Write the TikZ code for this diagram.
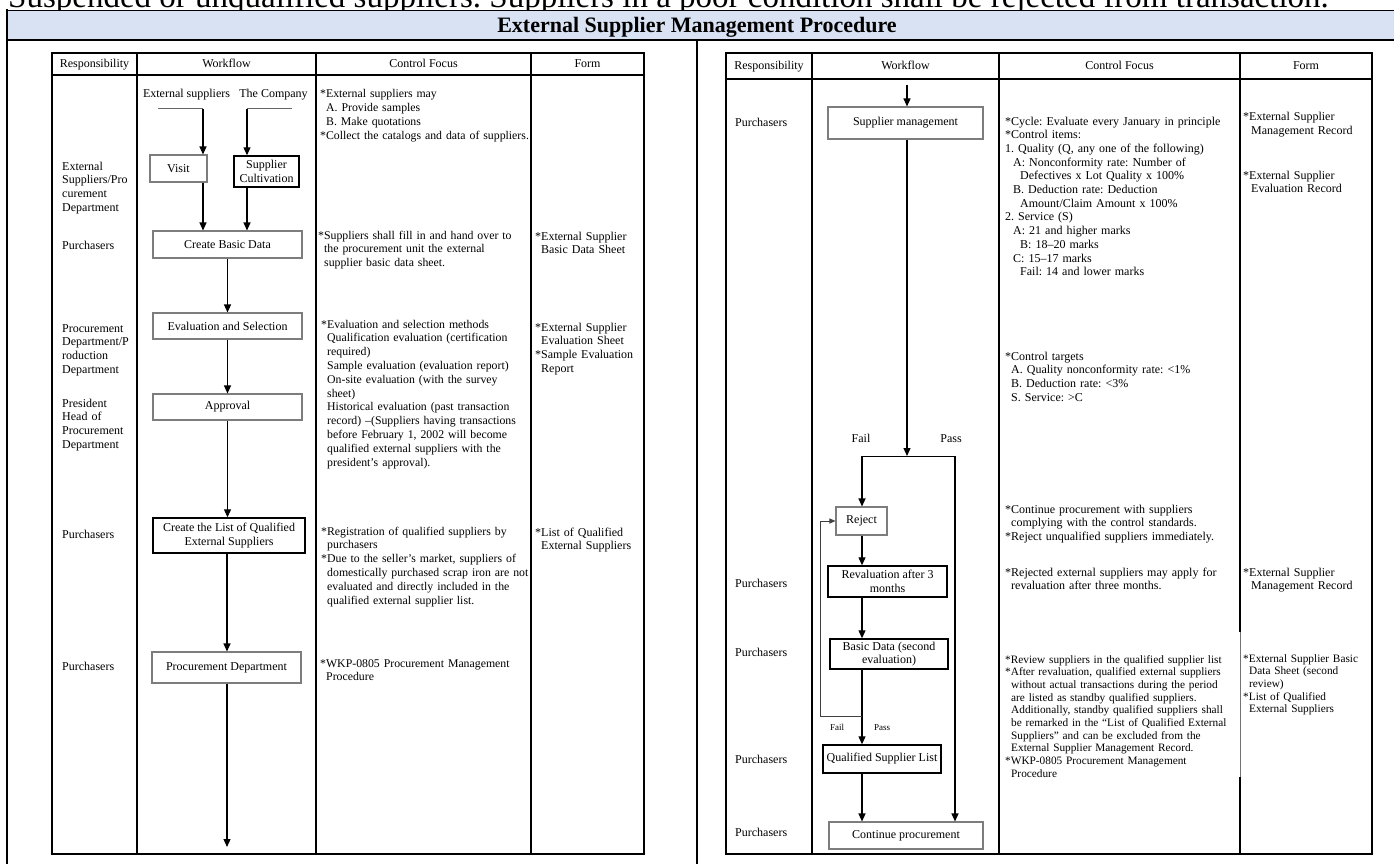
\documentclass[tikz,border=0pt]{standalone}
\usepackage{fontspec}
\setmainfont{Liberation Serif}
\usetikzlibrary{arrows.meta}
\definecolor{titlebg}{RGB}{217,226,242}
\definecolor{boxgray}{RGB}{125,125,125}
\newcommand{\myind}{\hspace*{6pt}}
\newcommand{\fsn}{\frenchspacing\fontsize{12}{13.7}\selectfont}
\newcommand{\fsm}{\frenchspacing\fontsize{11.8}{13.8}\selectfont}
\newcommand{\fss}{\frenchspacing\fontsize{11.3}{12.7}\selectfont}
\begin{document}
\begin{tikzpicture}[x=1pt,y=-1pt,
  every node/.style={inner sep=0pt},
  gbox/.style={draw=boxgray, line width=1.1pt, align=center, font=\fsn},
  bbox/.style={draw=black, line width=1.4pt, align=center, font=\fsn},
  flow/.style={line width=1.2pt, -{Triangle[length=8pt,width=7pt]}},
  thinflow/.style={line width=0.9pt, black!75, -{Triangle[length=6pt,width=5pt]}},
  seg/.style={line width=1pt},
  txt/.style={anchor=base west, align=left, text width=300pt, font=\fsn},
  mtxt/.style={anchor=base west, align=left, text width=300pt, font=\fsm},
  stxt/.style={anchor=base west, align=left, text width=300pt, font=\fss},
  hdr/.style={anchor=base, font=\fsn},
  frame/.style={line width=2.5pt},
  col/.style={line width=1.5pt}
]
\useasboundingbox (0,0) rectangle (1394,864);
\clip (0,0) rectangle (1394,864);
\fill[white] (0,0) rectangle (1394,864);

% cropped line of text at the very top
\node[anchor=base west, font=\frenchspacing\fontsize{33}{36}\selectfont] (toptext) at (8,8)
  {Suspended or unqualified suppliers. Suppliers in a poor condition shall be rejected from transaction.};

% title bar and outer frame
\fill[titlebg] (7,10) rectangle (1394,40);
\draw[line width=0.8pt] (7,10) -- (1394,10);
\draw[col] (7,40) -- (1394,40);
\draw[frame] (7,9) -- (7,864);
\draw[col] (697,40) -- (697,864);
\node[anchor=base, font=\fontsize{22}{24}\selectfont\bfseries] (title) at (697,33)
  {External Supplier Management Procedure};

%================ LEFT TABLE ================
\draw[frame] (52,53) rectangle (644,854);
\draw[col] (137,53) -- (137,854);
\draw[col] (316,53) -- (316,854);
\draw[col] (531,53) -- (531,854);
\draw[col] (52,75) -- (644,75);
\node[hdr] (lh1) at (94.5,68) {Responsibility};
\node[hdr] (lh2) at (226.5,68) {Workflow};
\node[hdr] (lh3) at (423.5,68) {Control Focus};
\node[hdr] (lh4) at (587.5,68) {Form};

% responsibility
\node[txt] (lr1) at (62,170) {External\\Suppliers/Pro\\curement\\Department};
\node[txt] (lr2) at (62,249) {Purchasers};
\node[txt] (lr3) at (62,332) {Procurement\\Department/P\\roduction\\Department};
\node[txt] (lr4) at (62,407) {President\\Head of\\Procurement\\Department};
\node[txt] (lr5) at (62,538) {Purchasers};
\node[txt] (lr6) at (62,670) {Purchasers};

% workflow
\node[anchor=base, font=\fsn] (les) at (186.5,98) {External suppliers};
\node[anchor=base, font=\fsn] (lco) at (273.5,98) {The Company};
\node[gbox, minimum width=57pt, minimum height=27pt] (visit) at (178.5,168.5) {Visit};
\node[bbox, minimum width=65pt, minimum height=31pt] (cult) at (266.5,171.5) {Supplier\\Cultivation};
\node[gbox, minimum width=149pt, minimum height=27pt] (cbd) at (227.5,244.5) {Create Basic Data};
\node[gbox, minimum width=149pt, minimum height=26pt] (evs) at (227.5,326) {Evaluation and Selection};
\node[gbox, minimum width=149pt, minimum height=26pt] (appr) at (227.5,407) {Approval};
\node[bbox, minimum width=152pt, minimum height=35pt] (clist) at (229,535.5) {Create the List of Qualified\\External Suppliers};
\node[gbox, minimum width=149pt, minimum height=31pt] (pdept) at (226.5,667.5) {Procurement Department};

\coordinate (es0) at (158,109);
\coordinate (es1) at (203,109);
\coordinate (co0) at (292,109);
\coordinate (co1) at (247,109);
\coordinate (lend) at (227,847);
\draw[seg, black!60] (es0) -- (es1);
\draw[seg, black!60] (co0) -- (co1);
\draw[flow] (es1) -- (es1 |- visit.north);
\draw[flow] (co1) -- (co1 |- cult.north);
\draw[flow] (visit.south -| es1) -- (es1 |- cbd.north);
\draw[flow] (cult.south -| co1) -- (co1 |- cbd.north);
\draw[flow] (cbd.south) -- (evs.north);
\draw[flow] (evs.south) -- (appr.north);
\draw[flow] (appr.south) -- (appr.south |- clist.north);
\draw[flow] (lend |- clist.south) -- (lend |- pdept.north);
\draw[flow] (lend |- pdept.south) -- (lend);

% control focus
\node[mtxt] (lc1) at (320,98) {{*}External suppliers may\\\myind A. Provide samples\\\myind B. Make quotations\\{*}Collect the catalogs and data of suppliers.};
\node[mtxt] (lc2) at (318,239) {{*}Suppliers shall fill in and hand over to\\\myind the procurement unit the external\\\myind supplier basic data sheet.};
\node[mtxt] (lc3) at (321,328) {{*}Evaluation and selection methods\\\myind Qualification evaluation (certification\\\myind required)\\\myind Sample evaluation (evaluation report)\\\myind On-site evaluation (with the survey\\\myind sheet)\\\myind Historical evaluation (past transaction\\\myind record) –(Suppliers having transactions\\\myind before February 1, 2002 will become\\\myind qualified external suppliers with the\\\myind president’s approval).};
\node[mtxt] (lc4) at (321,535) {{*}Registration of qualified suppliers by\\\myind purchasers\\{*}Due to the seller’s market, suppliers of\\\myind domestically purchased scrap iron are not\\\myind evaluated and directly included in the\\\myind qualified external supplier list.};
\node[mtxt] (lc5) at (320,667) {{*}WKP-0805 Procurement Management\\\myind Procedure};

% form
\node[txt] (lf1) at (535,240) {{*}External Supplier\\\myind Basic Data Sheet};
\node[txt] (lf2) at (535,331) {{*}External Supplier\\\myind Evaluation Sheet\\{*}Sample Evaluation\\\myind Report};
\node[txt] (lf3) at (535,536) {{*}List of Qualified\\\myind External Suppliers};

%================ RIGHT TABLE ================
\draw[frame] (726,53) rectangle (1372,854);
\draw[col] (812,53) -- (812,854);
\draw[col] (999,53) -- (999,854);
\draw[col] (1240,53) -- (1240,632);
\draw[line width=0.7pt, black!55] (1240,632) -- (1240,777);
\draw[col] (1240,777) -- (1240,854);
\draw[col] (726,79) -- (1372,79);
\node[hdr] (rh1) at (769,70) {Responsibility};
\node[hdr] (rh2) at (905.5,70) {Workflow};
\node[hdr] (rh3) at (1119.5,70) {Control Focus};
\node[hdr] (rh4) at (1306,70) {Form};

% responsibility
\node[txt] (rr1) at (735,127) {Purchasers};
\node[txt] (rr2) at (735,587) {Purchasers};
\node[txt] (rr3) at (735,656) {Purchasers};
\node[txt] (rr4) at (735,763) {Purchasers};
\node[txt] (rr5) at (735,836) {Purchasers};

% workflow
\node[gbox, minimum width=155pt, minimum height=32pt] (smg) at (905.5,123) {Supplier management};
\node[gbox, minimum width=51pt, minimum height=28pt] (reject) at (861.5,521) {Reject};
\node[bbox, minimum width=119pt, minimum height=31pt] (reval) at (887.5,581.5) {Revaluation after 3\\months};
\node[bbox, minimum width=118pt, minimum height=30pt] (bdata) at (889,654) {Basic Data (second\\evaluation)};
\node[bbox, minimum width=118pt, minimum height=28pt] (qsl) at (882,759) {Qualified Supplier List};
\node[gbox, minimum width=154pt, minimum height=27pt] (cont) at (906,835.5) {Continue procurement};
\node[anchor=base, font=\fsn] (fail1) at (861,442) {Fail};
\node[anchor=base, font=\fsn] (pass1) at (951,442) {Pass};
\node[anchor=base, font=\fontsize{9}{10}\selectfont] (fail2) at (837,730) {Fail};
\node[anchor=base, font=\fontsize{9}{10}\selectfont] (pass2) at (882,730) {Pass};

\coordinate (rtop) at (907,85);
\coordinate (fork) at (907,456);
\coordinate (forkL) at (862,456);
\coordinate (forkR) at (955,456);
\coordinate (loopA) at (862,716);
\coordinate (loopB) at (820,716);
\draw[flow] (rtop) -- (rtop |- smg.north);
\draw[flow] (rtop |- smg.south) -- (fork);
\draw[seg] (forkL) -- (forkR);
\draw[flow] (forkL) -- (forkL |- reject.north);
\draw[flow] (forkR) -- (forkR |- cont.north);
\draw[flow] (forkL |- reject.south) -- (forkL |- reval.north);
\draw[flow] (forkL |- reval.south) -- (forkL |- bdata.north);
\draw[flow] (forkL |- bdata.south) -- (forkL |- qsl.north);
\draw[flow] (forkL |- qsl.south) -- (forkL |- cont.north);
\draw[thinflow] (loopA) -- (loopB) -- (loopB |- reject.west) -- (reject.west);

% control focus
\node[txt] (rc1) at (1005,125) {{*}Cycle: Evaluate every January in principle\\{*}Control items:\\1. Quality (Q, any one of the following)\\\hspace*{8pt}A: Nonconformity rate: Number of\\\hspace*{15pt}Defectives x Lot Quality x 100\%\\\hspace*{8pt}B. Deduction rate: Deduction\\\hspace*{15pt}Amount/Claim Amount x 100\%\\2. Service (S)\\\hspace*{8pt}A: 21 and higher marks\\\hspace*{15pt}B: 18–20 marks\\\hspace*{8pt}C: 15–17 marks\\\hspace*{15pt}Fail: 14 and lower marks};
\node[txt] (rc2) at (1005,360) {{*}Control targets\\\myind A. Quality nonconformity rate: <1\%\\\myind B. Deduction rate: <3\%\\\myind S. Service: >C};
\node[txt] (rc3) at (1005,513) {{*}Continue procurement with suppliers\\\myind complying with the control standards.\\{*}Reject unqualified suppliers immediately.};
\node[txt] (rc4) at (1005,576) {{*}Rejected external suppliers may apply for\\\myind revaluation after three months.};
\node[stxt] (rc5) at (1005,663) {{*}Review suppliers in the qualified supplier list\\{*}After revaluation, qualified external suppliers\\\myind without actual transactions during the period\\\myind are listed as standby qualified suppliers.\\\myind Additionally, standby qualified suppliers shall\\\myind be remarked in the “List of Qualified External\\\myind Suppliers” and can be excluded from the\\\myind External Supplier Management Record.\\{*}WKP-0805 Procurement Management\\\myind Procedure};

% form
\node[txt] (rf1) at (1243,121) {{*}External Supplier\\\hspace*{8pt}Management Record};
\node[txt] (rf2) at (1243,179) {{*}External Supplier\\\hspace*{8pt}Evaluation Record};
\node[txt] (rf3) at (1243,576) {{*}External Supplier\\\hspace*{8pt}Management Record};
\node[stxt] (rf4) at (1243,662) {{*}External Supplier Basic\\\myind Data Sheet (second\\\myind review)\\{*}List of Qualified\\\myind External Suppliers};
\end{tikzpicture}
\end{document}
